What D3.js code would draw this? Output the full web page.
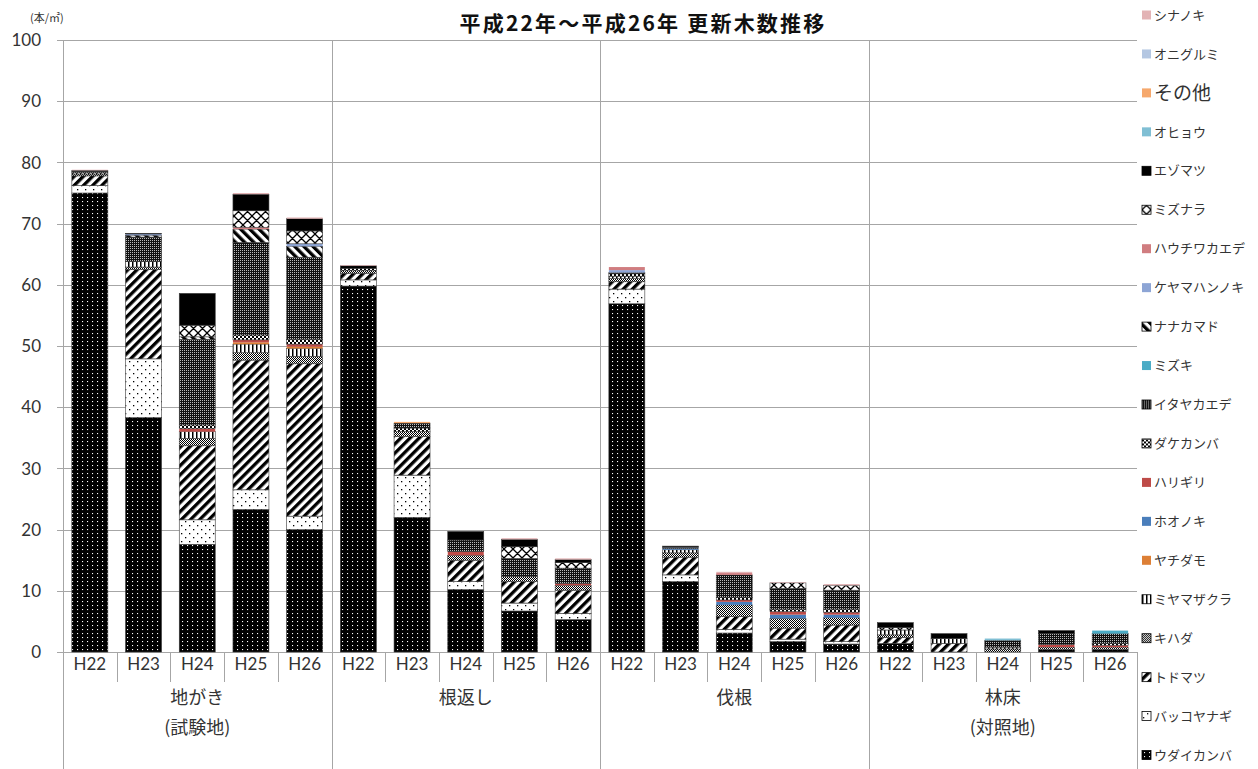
<!DOCTYPE html>
<html>
<head>
<meta charset="utf-8">
<script src="https://cdn.jsdelivr.net/npm/d3@7/dist/d3.min.js"></script>
<style>
  html, body { margin: 0; padding: 0; background: #fff; }
  svg { display: block; }
</style>
</head>
<body>
<svg id="chart" width="1258" height="769"></svg>
<script>
// ---------------- DATA ----------------
const years = ["H22", "H23", "H24", "H25", "H26"];
const groups = [["地がき", "(試験地)"], ["根返し"], ["伐根"], ["林床", "(対照地)"]];
const yTicks = [0, 10, 20, 30, 40, 50, 60, 70, 80, 90, 100];

// stack order: bottom -> top
const species = ["ウダイカンバ", "バッコヤナギ", "トドマツ", "キハダ", "ミヤマザクラ", "ヤチダモ", "ホオノキ",
  "ハリギリ", "ダケカンバ", "イタヤカエデ", "ミズキ", "ナナカマド", "ケヤマハンノキ", "ハウチワカエデ",
  "ミズナラ", "エゾマツ", "オヒョウ", "その他", "オニグルミ", "シナノキ"];

// values per bar: 地がき H22..H26, 根返し H22..H26, 伐根 H22..H26, 林床 H22..H26
const udaikanba    = [75.0, 38.3, 17.6, 23.3, 20.0, 59.8, 22.0, 10.2, 6.7, 5.3, 56.9, 11.5, 3.1, 1.7, 1.3, 1.4, 0, 0, 0.4, 0.4];
const bakkoyanagi  = [1.2, 9.6, 4.0, 3.2, 2.2, 1.0, 6.9, 1.3, 1.3, 1.0, 2.4, 1.1, 0.6, 0.4, 0.4, 0, 0, 0, 0, 0];
const todomatsu    = [1.6, 14.6, 12.1, 21.2, 24.9, 1.1, 6.3, 3.5, 3.5, 3.8, 1.2, 2.9, 2.1, 1.8, 2.7, 1.0, 1.4, 0, 0, 0];
const kihada       = [0.3, 0.4, 1.2, 1.2, 1.2, 0.4, 0.8, 0.8, 0.8, 0.8, 0.5, 0.7, 1.9, 1.6, 1.2, 0.4, 0, 0.5, 0.4, 0.4];
const miyamazakura = [0.2, 0.9, 1.1, 1.4, 1.3, 0, 0, 0, 0, 0, 0.4, 0.5, 0, 0, 0, 0.8, 0.8, 0.3, 0, 0];
const yachidamo    = [0, 0, 0, 0.3, 0.3, 0, 0, 0, 0, 0, 0, 0, 0, 0, 0, 0, 0, 0, 0, 0];
const hoonoki      = [0, 0, 0, 0, 0, 0, 0, 0, 0, 0, 0, 0.2, 0.5, 0.6, 0.5, 0, 0, 0, 0, 0];
const harigiri     = [0, 0, 0.5, 0.4, 0.4, 0, 0, 0.6, 0, 0.3, 0, 0, 0.3, 0.5, 0.4, 0, 0, 0, 0.4, 0.3];
const dakekanba    = [0, 0, 0.6, 0.8, 0.8, 0.4, 0.6, 0, 0, 0, 0.4, 0, 0.4, 0.4, 0.5, 0, 0, 0, 0, 0.3];
const itayakaede   = [0.2, 4.0, 14.0, 15.1, 13.4, 0, 0.8, 1.9, 3.0, 2.5, 0.2, 0.1, 3.7, 3.4, 3.1, 0, 0, 1.1, 1.8, 1.6];
const mizuki       = [0, 0, 0, 0, 0, 0, 0, 0, 0, 0, 0, 0, 0, 0, 0, 0, 0, 0, 0, 0.5];
const nanakamado   = [0, 0.3, 0.4, 2.2, 1.8, 0, 0, 0, 0, 0, 0, 0, 0, 0, 0, 0, 0, 0, 0, 0];
const keyamahannoki= [0, 0.2, 0, 0, 0.4, 0, 0, 0, 0, 0, 0.4, 0.1, 0, 0, 0, 0, 0, 0, 0, 0];
const hauchiwakaede= [0, 0, 0, 0.3, 0, 0, 0, 0, 0, 0, 0.5, 0, 0.3, 0, 0, 0, 0, 0, 0, 0];
const mizunara     = [0, 0, 1.9, 2.7, 2.1, 0, 0, 0, 1.9, 0.9, 0, 0, 0, 0.9, 0.8, 0.4, 0, 0, 0, 0];
const ezomatsu     = [0.2, 0.1, 5.2, 2.7, 2.0, 0.4, 0, 1.4, 1.2, 0.5, 0, 0.2, 0, 0, 0, 0.8, 0.8, 0, 0.5, 0];
const ohyou        = [0, 0, 0, 0, 0, 0, 0, 0, 0, 0, 0, 0, 0, 0, 0, 0, 0, 0.3, 0, 0];
const sonota       = [0, 0, 0, 0, 0, 0, 0.2, 0, 0, 0, 0, 0, 0, 0, 0, 0, 0, 0, 0, 0];
const onigurumi    = [0, 0, 0, 0, 0, 0, 0, 0, 0, 0, 0, 0, 0, 0, 0, 0, 0, 0, 0, 0];
const shinanoki    = [0.1, 0, 0, 0.2, 0.2, 0.1, 0, 0, 0.2, 0.2, 0, 0, 0.2, 0.1, 0.2, 0, 0, 0, 0, 0];

const seriesValues = [udaikanba, bakkoyanagi, todomatsu, kihada, miyamazakura, yachidamo, hoonoki,
  harigiri, dakekanba, itayakaede, mizuki, nanakamado, keyamahannoki, hauchiwakaede,
  mizunara, ezomatsu, ohyou, sonota, onigurumi, shinanoki];

// ---------------- STYLE ----------------
const fills = {
  "ウダイカンバ": "url(#p-uda)", "バッコヤナギ": "url(#p-bakko)", "トドマツ": "url(#p-todo)",
  "キハダ": "url(#p-kihada)", "ミヤマザクラ": "url(#p-miyama)", "ヤチダモ": "#DD7F35",
  "ホオノキ": "#4A7EBB", "ハリギリ": "#BE4B48", "ダケカンバ": "url(#p-dake)",
  "イタヤカエデ": "url(#p-itaya)", "ミズキ": "#4BACC6", "ナナカマド": "url(#p-nana)",
  "ケヤマハンノキ": "#8DA5D5", "ハウチワカエデ": "#D07D80", "ミズナラ": "url(#p-mizunara)",
  "エゾマツ": "#000000", "オヒョウ": "#80BFD4", "その他": "#F6A86C", "オニグルミ": "#B4C7E2",
  "シナノキ": "#E3B3B5"
};
const patterned = new Set(["ウダイカンバ","バッコヤナギ","トドマツ","キハダ","ミヤマザクラ","ダケカンバ","イタヤカエデ","ナナカマド","ミズナラ","エゾマツ"]);

(function () {
const svg = d3.select("#chart");
const defs = svg.append("defs");

function pat(id, w, h, bg, draw, transform) {
  const p = defs.append("pattern").attr("id", id).attr("patternUnits", "userSpaceOnUse")
    .attr("width", w).attr("height", h);
  if (transform) p.attr("patternTransform", transform);
  p.append("rect").attr("width", w).attr("height", h).attr("fill", bg);
  draw(p);
}
pat("p-uda", 5, 4, "#000", p => p.append("rect").attr("x", 2).attr("y", 1).attr("width", 1.1).attr("height", 1.1).attr("fill", "#fff"));
pat("p-bakko", 8, 8, "#fff", p => {
  p.append("rect").attr("x", 1).attr("y", 1).attr("width", 1.3).attr("height", 1.3).attr("fill", "#000");
  p.append("rect").attr("x", 5).attr("y", 5).attr("width", 1.3).attr("height", 1.3).attr("fill", "#000");
});
pat("p-todo", 6.5, 6.5, "#fff", p => p.append("rect").attr("width", 3.3).attr("height", 6.5).attr("fill", "#000"), "rotate(45)");
pat("p-nana", 6.5, 6.5, "#fff", p => p.append("rect").attr("width", 3.3).attr("height", 6.5).attr("fill", "#000"), "rotate(-45)");
pat("p-kihada", 2, 2, "#fff", p => {
  p.append("rect").attr("x", 0).attr("y", 0).attr("width", 1).attr("height", 1).attr("fill", "#000");
  p.append("rect").attr("x", 1).attr("y", 1).attr("width", 1).attr("height", 1).attr("fill", "#000");
});
pat("p-miyama", 4, 4, "#fff", p => p.append("rect").attr("x", 0).attr("width", 1.5).attr("height", 4).attr("fill", "#000"));
pat("p-dake", 4, 4, "#fff", p => {
  p.append("rect").attr("x", 0).attr("y", 0).attr("width", 2).attr("height", 2).attr("fill", "#000");
  p.append("rect").attr("x", 2).attr("y", 2).attr("width", 2).attr("height", 2).attr("fill", "#000");
});
pat("p-itaya", 2, 2, "#111", p => p.append("rect").attr("x", 0).attr("y", 0).attr("width", 1).attr("height", 1).attr("fill", "#bbb"));
pat("p-mizunara", 9, 9, "#fff", p => p.append("path").attr("d", "M0,0L9,9M9,0L0,9M-1,8L1,10M8,-1L10,1").attr("stroke", "#000").attr("stroke-width", 1.3));

const pLeft = 63, pRight = 1137, pTop = 40, pBottom = 652;
const nBars = groups.length * years.length;
const barIdx = d3.range(nBars);
const x = d3.scaleBand().domain(barIdx).range([pLeft, pRight]).paddingInner(0.33).paddingOuter(0.165);
const step = (pRight - pLeft) / nBars;
const y = d3.scaleLinear().domain([0, 100]).range([pBottom, pTop]);

const gridColor = "#A6A6A6";
svg.append("g").selectAll("line").data(yTicks).join("line")
  .attr("x1", pLeft - 6).attr("x2", pRight)
  .attr("y1", d => Math.round(y(d)) + 0.5).attr("y2", d => Math.round(y(d)) + 0.5)
  .attr("stroke", gridColor).attr("stroke-width", 1);

svg.append("g").selectAll("text").data(yTicks).join("text")
  .attr("x", 41).attr("y", d => y(d)).attr("dy", "0.36em")
  .attr("text-anchor", "end").attr("font-family", "Lato, 'Noto Sans', sans-serif")
  .attr("font-size", 17).attr("fill", "#333").text(d => d);

const groupBounds = d3.range(groups.length + 1).map(i => pLeft + i * years.length * step);
svg.append("g").selectAll("line").data(groupBounds).join("line")
  .attr("x1", d => Math.round(d) + 0.5).attr("x2", d => Math.round(d) + 0.5)
  .attr("y1", (d, i) => i === groups.length ? pBottom : pTop).attr("y2", 769)
  .attr("stroke", gridColor).attr("stroke-width", 1);
const minor = d3.range(1, nBars).filter(i => i % years.length !== 0).map(i => pLeft + i * step);
svg.append("g").selectAll("line").data(minor).join("line")
  .attr("x1", d => Math.round(d) + 0.5).attr("x2", d => Math.round(d) + 0.5)
  .attr("y1", pBottom).attr("y2", 682)
  .attr("stroke", gridColor).attr("stroke-width", 1);

const rows = barIdx.map(i => {
  const r = { idx: i };
  species.forEach((s, k) => r[s] = seriesValues[k][i]);
  return r;
});
const stacked = d3.stack().keys(species)(rows);
svg.append("g").selectAll("g").data(stacked).join("g")
  .attr("fill", d => fills[d.key])
  .attr("stroke", d => patterned.has(d.key) ? "#3a3a3a" : "none")
  .attr("stroke-width", 0.6)
  .selectAll("rect").data(d => d.filter(v => v[1] - v[0] > 0)).join("rect")
  .attr("x", d => x(d.data.idx)).attr("width", x.bandwidth())
  .attr("y", d => y(d[1])).attr("height", d => y(d[0]) - y(d[1]));

svg.append("g").selectAll("text").data(barIdx).join("text")
  .attr("x", i => x(i) + x.bandwidth() / 2).attr("y", 664).attr("dy", "0.36em")
  .attr("text-anchor", "middle").attr("font-family", "Lato, 'Noto Sans', sans-serif")
  .attr("font-size", 17).attr("fill", "#333").text(i => years[i % years.length]);

groups.forEach((g, gi) => {
  const cx = pLeft + (gi + 0.5) * years.length * step;
  g.forEach((line, li) => {
    svg.append("text").attr("x", cx).attr("y", 698 + li * 30).attr("dy", "0.36em")
      .attr("text-anchor", "middle").attr("font-family", "'Noto Sans CJK JP', sans-serif")
      .attr("font-size", 18).attr("fill", "#333").text(line);
  });
});

svg.append("text").attr("x", 30).attr("y", 18).attr("dy", "0.36em")
  .attr("font-family", "'Noto Sans CJK JP', sans-serif").attr("font-size", 11).attr("fill", "#333").text("(本/㎡)");

svg.append("text").attr("x", 643).attr("y", 23).attr("dy", "0.36em").attr("text-anchor", "middle")
  .attr("font-family", "'Noto Sans CJK JP', sans-serif").attr("font-size", 21).attr("font-weight", "bold")
  .attr("letter-spacing", 2.2).attr("fill", "#111").text("平成22年～平成26年 更新木数推移");

const legendItems = species.slice().reverse();
const lg = svg.append("g").selectAll("g").data(legendItems).join("g")
  .attr("transform", (d, i) => `translate(1142, ${15 + i * 38.95})`);
lg.append("rect").attr("x", 0).attr("y", -4.5).attr("width", 9).attr("height", 9)
  .attr("fill", d => fills[d]).attr("stroke", d => patterned.has(d) ? "#000" : "none").attr("stroke-width", 0.8);
lg.append("text").attr("x", 12).attr("y", 0).attr("dy", "0.36em")
  .attr("font-family", "'Noto Sans CJK JP', sans-serif")
  .attr("font-size", d => d === "その他" ? 19 : 13).attr("fill", "#333").text(d => d);
})();
</script>
</body>
</html>
